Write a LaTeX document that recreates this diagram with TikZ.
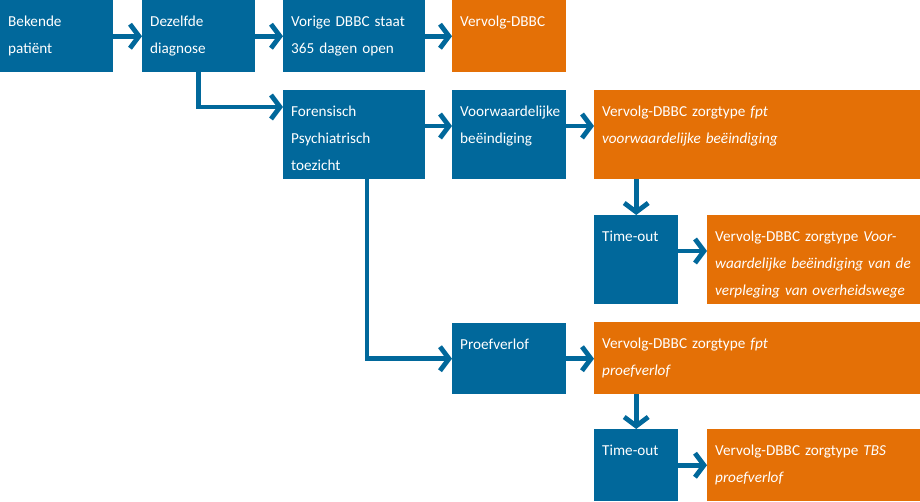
\documentclass[tikz,border=0pt]{standalone}
\usepackage{fontspec}
\setmainfont{Carlito}
\usetikzlibrary{arrows.meta}
\definecolor{dbblue}{HTML}{01689B}
\definecolor{dborange}{HTML}{E47006}

\begin{document}
\begin{tikzpicture}[
    x=1pt, y=-1pt,
    box/.style={rectangle, anchor=north west, inner xsep=8pt, inner ysep=0pt, align=left, text=white, font=\fontsize{15.2}{27}\selectfont, text height=26pt},
    blue/.style={box, fill=dbblue},
    orange/.style={box, fill=dborange},
    arrow/.style={-{Straight Barb[length=9pt,width=24pt]}, line width=4.8pt, draw=dbblue}
]
\useasboundingbox (0,0) rectangle (920,502);

% Row 1
\node[blue, text width=97pt, text depth=46pt] (bekend) at (0,0) {Bekende\\patiënt};
\node[blue, text width=97pt, text depth=46pt] (diagn) at (142,0) {Dezelfde\\diagnose};
\node[blue, text width=126pt, text depth=46pt] (vorige) at (283,0) {Vorige DBBC staat\\365 dagen open};
\node[orange, text width=98pt, text depth=46pt] (vervolg) at (452,0) {Vervolg-DBBC};

% Forensisch psychiatrisch toezicht
\node[blue, text width=126pt, text depth=63pt] (foren) at (283,90) {Forensisch\\Psychiatrisch\\toezicht};
\node[blue, text width=98pt, text depth=63pt] (voorw) at (452,90) {Voorwaardelijke\\beëindiging};
\node[orange, text width=310pt, text depth=63pt] (vfpt) at (594,90) {Vervolg-DBBC zorgtype \textit{fpt}\\\textit{voorwaardelijke beëindiging}};
\node[blue, text width=68pt, text depth=63pt] (timeA) at (594,215) {Time-out};
\node[orange, text width=197pt, text depth=63pt] (vvoor) at (707,215) {Vervolg-DBBC zorgtype \textit{Voor-}\\\textit{waardelijke beëindiging van de}\\\textit{verpleging van overheidswege}};

% Proefverlof
\node[blue, text width=98pt, text depth=45pt] (proef) at (452,323) {Proefverlof};
\node[orange, text width=310pt, text depth=46pt] (vproef) at (594,322) {Vervolg-DBBC zorgtype \textit{fpt}\\\textit{proefverlof}};
\node[blue, text width=68pt, text depth=46pt] (timeB) at (594,429) {Time-out};
\node[orange, text width=197pt, text depth=46pt] (vtbs) at (707,429) {Vervolg-DBBC zorgtype \textit{TBS}\\\textit{proefverlof}};

% Arrows
\draw[arrow] (bekend) -- (diagn);
\draw[arrow] (diagn) -- (vorige);
\draw[arrow] (vorige) -- (vervolg);
\draw[arrow] (diagn.south) |- ([yshift=-17pt]foren.north west);
\draw[arrow] ([yshift=-36pt]foren.north east) -- ([yshift=-36pt]voorw.north west);
\draw[arrow] ([yshift=-36pt]voorw.north east) -- ([yshift=-36pt]vfpt.north west);
\draw[arrow] (timeA.north |- vfpt.south) -- (timeA.north);
\draw[arrow] ([yshift=-36pt]timeA.north east) -- ([yshift=-36pt]vvoor.north west);
\draw[arrow] ([xshift=84pt]foren.south west) |- (proef.west);
\draw[arrow] (proef.east) -- (proef.east -| vproef.west);
\draw[arrow] (timeB.north |- vproef.south) -- (timeB.north);
\draw[arrow] (timeB) -- (vtbs);

\end{tikzpicture}
\end{document}
